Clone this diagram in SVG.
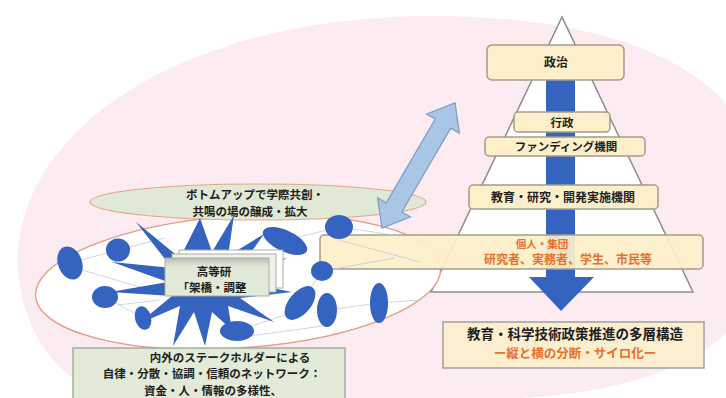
<svg xmlns="http://www.w3.org/2000/svg" width="726" height="398" viewBox="0 0 726 398">
<defs>
<style>
.t{font-family:"Noto Sans CJK JP","Noto Sans",sans-serif;font-weight:bold;text-anchor:middle;fill:#1e1e1e}
.o{fill:#e8702a}
.pbox{fill:#fcefc9;stroke:#a39c8c;stroke-width:1.5}
.blob{fill:#3463c0}
.net{stroke:#c3cad8;stroke-width:0.8;fill:none}
</style>
<linearGradient id="kg" x1="0" y1="0" x2="0" y2="1">
<stop offset="0" stop-color="#b9beb6"/>
<stop offset="0.22" stop-color="#dfe7d6"/>
<stop offset="1" stop-color="#e3ebd9"/>
</linearGradient>
</defs>
<rect width="726" height="398" fill="#ffffff"/>
<path id="bg" d="M18,260 C18,130 180,20 420,16 C600,14 726,60 760,160 L760,280 C740,350 650,392 520,398 L120,398 C50,384 18,320 18,260 Z" fill="#fcebf0"/>

<g id="pyramid">
<polygon points="562,17 431,292 693,292" fill="#ffffff" stroke="#8c8c8c" stroke-width="1.5"/>
<rect x="546" y="80" width="29" height="198" fill="#3463c0"/>
<polygon points="529,277 594,277 561,311" fill="#3463c0"/>
</g>

<g id="seiji"><rect class="pbox" x="487" y="45" width="137" height="35" rx="5"/><text class="t" x="556" y="67" font-size="12">政治</text></g>
<g id="gyosei"><rect class="pbox" x="514" y="112" width="96" height="20" rx="4"/><text class="t" x="562" y="127" font-size="11.5">行政</text></g>
<g id="funding"><rect class="pbox" x="485" y="137" width="160" height="19" rx="4"/><text class="t" x="566" y="151" font-size="11.5">ファンディング機関</text></g>
<g id="kikan"><rect class="pbox" x="469" y="185" width="189" height="24" rx="4"/><text class="t" x="563" y="202" font-size="12">教育・研究・開発実施機関</text></g>

<g id="network">
<ellipse cx="238" cy="282" rx="203" ry="66" transform="rotate(-4 238 282)" fill="#ffffff" stroke="#e59a84" stroke-width="1.3"/>
</g>

<g id="bottomup">
<ellipse cx="258" cy="202" rx="168" ry="18" fill="#dfe9d6" stroke="#e8a488" stroke-width="1.2"/>
<text class="t" x="255" y="199" font-size="11.5">ボトムアップで学際共創・</text>
<text class="t" x="250" y="215.5" font-size="11.5">共鳴の場の醸成・拡大</text>
</g>

<g id="kojin">
<rect x="320" y="235" width="383" height="34" rx="4" fill="#fcefc9" fill-opacity="0.93" stroke="#a39c8c" stroke-width="1.5"/>
<text class="t o" x="542" y="247.5" font-size="10.5">個人・集団</text>
<text class="t o" x="568" y="264" font-size="12">研究者、実務者、学生、市民等</text>
</g>

<g id="connectors">
<g class="net">
<line x1="70" y1="263" x2="118" y2="250"/>
<line x1="82" y1="270" x2="150" y2="290"/>
<line x1="105" y1="297" x2="143" y2="318"/>
<line x1="118" y1="250" x2="165" y2="238"/>
<line x1="118" y1="305" x2="160" y2="300"/>
<line x1="283" y1="241" x2="339" y2="227"/>
<line x1="339" y1="227" x2="400" y2="236"/>
<line x1="322" y1="271" x2="395" y2="258"/>
<line x1="339" y1="240" x2="420" y2="262"/>
<line x1="327" y1="310" x2="379" y2="303"/>
<line x1="379" y1="303" x2="420" y2="300"/>
<line x1="237" y1="331" x2="300" y2="310"/>
<line x1="300" y1="303" x2="322" y2="271"/>
<line x1="250" y1="336" x2="330" y2="325"/>
</g>
<polygon points="-72.5,0 -48.5,-19 -48.5,-9 48.5,-9 48.5,-19 72.5,0 48.5,19 48.5,9 -48.5,9 -48.5,19" transform="translate(418.5 165.5) rotate(-59.7)" fill="#a9c6e6" stroke="#7d9cc6" stroke-width="1.2"/>
</g>

<g id="blobs">
<ellipse class="blob" cx="70" cy="263" rx="12" ry="17" transform="rotate(-20 70 263)"/>
<ellipse class="blob" cx="118" cy="250" rx="12" ry="11.5"/>
<ellipse class="blob" cx="105" cy="297" rx="13" ry="11"/>
<ellipse class="blob" cx="143" cy="318" rx="8" ry="12" transform="rotate(-15 143 318)"/>
<ellipse class="blob" cx="237" cy="331" rx="17" ry="10"/>
<ellipse class="blob" cx="339" cy="227" rx="14" ry="12"/>
<ellipse class="blob" cx="285" cy="241" rx="24" ry="10.5" transform="rotate(25 285 241)"/>
<ellipse class="blob" cx="322" cy="271" rx="11" ry="10"/>
<ellipse class="blob" cx="300" cy="303" rx="20" ry="11" transform="rotate(-50 300 303)"/>
<ellipse class="blob" cx="327" cy="310" rx="10" ry="17"/>
<ellipse class="blob" cx="379" cy="303" rx="9" ry="20"/>
</g>

<g id="star">
<polygon class="blob" points="136,222 180,258 200,218 212,252 234,215 228,256 264,234 240,268 287,258 242,282 292,292 240,298 274,322 228,306 232,330 212,312 205,346 194,312 173,346 180,306 138,324 172,296 110,292 168,282 112,262 172,268"/>
</g>

<g id="kotoken">
<rect x="179" y="250" width="104" height="38" fill="#ffffff" stroke="#a9aea6" stroke-width="1"/>
<rect x="172" y="254" width="104" height="38" fill="#eef2ea" stroke="#a9aea6" stroke-width="1"/>
<rect x="165" y="258" width="104" height="38" fill="url(#kg)" stroke="#a9aea6" stroke-width="1"/>
<text class="t" x="214" y="276" font-size="11.5">高等研</text>
<text class="t" x="212" y="292" font-size="11.5">「架橋・調整</text>
</g>

<g id="stakeholder">
<rect x="73" y="348" width="272" height="56" fill="#e2ebd8" stroke="#9aa394" stroke-width="1.3"/>
<text class="t" x="230" y="361.5" font-size="11.5">内外のステークホルダーによる</text>
<text class="t" x="212" y="378" font-size="11.5">自律・分散・協調・信頼のネットワーク：</text>
<text class="t" x="213" y="394.5" font-size="11.5">資金・人・情報の多様性、</text>
</g>

<g id="tasou">
<rect x="443" y="322" width="261" height="46" fill="#fcefd0" stroke="#a0a0a0" stroke-width="1.5"/>
<text class="t" x="575" y="339" font-size="13.5">教育・科学技術政策推進の多層構造</text>
<text class="t o" x="575" y="358" font-size="12.5">ー縦と横の分断・サイロ化ー</text>
</g>
</svg>
